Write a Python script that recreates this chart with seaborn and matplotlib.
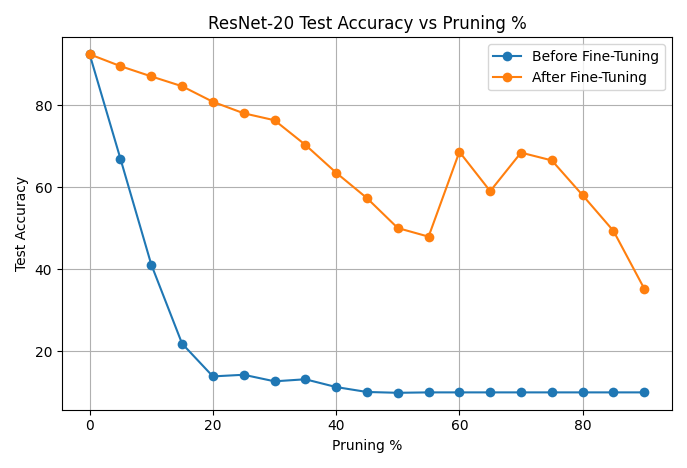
import matplotlib
matplotlib.use("Agg")
import matplotlib.pyplot as plt
import seaborn as sns

pruning = [0, 5, 10, 15, 20, 25, 30, 35, 40, 45, 50, 55, 60, 65, 70, 75, 80, 85, 90]
before_ft = [92.5, 67.0, 41.2, 21.9, 13.9, 14.3, 12.7, 13.2, 11.3, 10.1, 9.9, 10.0, 10.0,
             10.0, 10.0, 10.0, 10.0, 10.0, 10.0]
after_ft = [92.5, 89.6, 87.1, 84.7, 80.9, 78.1, 76.4, 70.4, 63.6, 57.4, 50.1, 48.0, 68.7,
            59.1, 68.5, 66.6, 58.1, 49.4, 35.3]

fig, ax = plt.subplots(figsize=(6.87, 4.68), dpi=100)
sns.lineplot(x=pruning, y=before_ft, marker="o", markeredgewidth=0, markersize=7,
             color="#1f77b4", label="Before Fine-Tuning", ax=ax)
sns.lineplot(x=pruning, y=after_ft, marker="o", markeredgewidth=0, markersize=7,
             color="#ff7f0e", label="After Fine-Tuning", ax=ax)
ax.set_xlabel("Pruning %")
ax.set_ylabel("Test Accuracy")
ax.set_title("ResNet-20 Test Accuracy vs Pruning %")
ax.grid(True)
ax.legend(loc="upper right")
fig.tight_layout()
fig.savefig("out.png", dpi=100)
